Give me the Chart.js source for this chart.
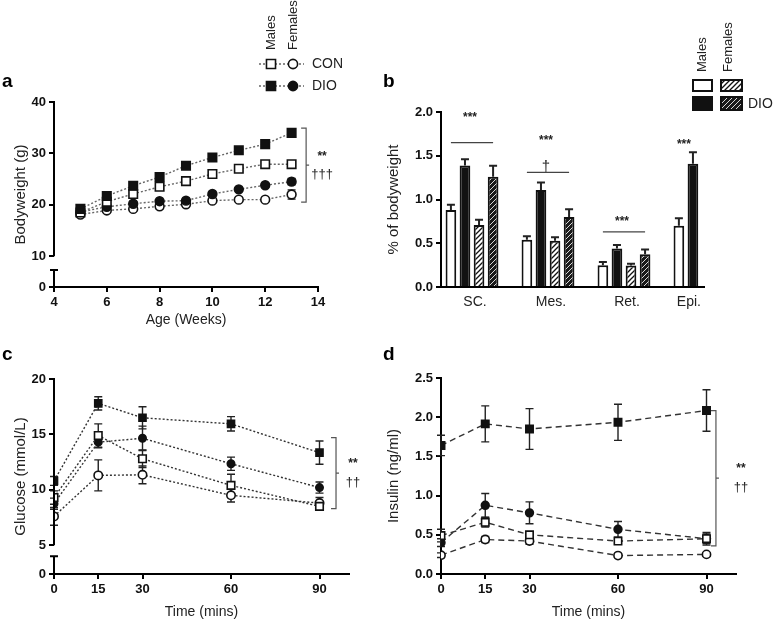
<!DOCTYPE html>
<html>
<head>
<meta charset="utf-8">
<script src="https://cdn.jsdelivr.net/npm/chart.js@4.4.1/dist/chart.umd.min.js"></script>
<style>
  html, body { margin: 0; background: #fff; }
  #fig { position: relative; width: 783px; height: 621px; overflow: hidden; background: #fff; }
  #fig canvas { position: absolute; }
</style>
</head>
<body>
<div id="fig">
  <canvas id="chartA" width="390" height="329" style="left:0;top:0"></canvas>
  <canvas id="chartB" width="403" height="322" style="left:380px;top:0"></canvas>
  <canvas id="chartC" width="390" height="299" style="left:0;top:322px"></canvas>
  <canvas id="chartD" width="403" height="299" style="left:380px;top:322px"></canvas>
</div>
<script>
// ---- panel a: bodyweight (g) by age ----
const aWeeks = [5, 6, 7, 8, 9, 10, 11, 12, 13];
const aConMale = [18.5, 20.6, 22.1, 23.5, 24.6, 26.0, 27.0, 27.9, 27.9];
const aDioMale = [19.2, 21.7, 23.7, 25.4, 27.6, 29.2, 30.6, 31.8, 34.0];
const aConFemale = [18.1, 18.9, 19.2, 19.7, 20.1, 20.8, 21.0, 21.0, 22.0];
const aDioFemale = [18.6, 19.6, 20.2, 20.7, 20.8, 22.1, 23.0, 23.8, 24.5];
const aConMaleErr = [0.3, 0.3, 0.3, 0.4, 0.4, 0.4, 0.4, 0.5, 0.5];
const aDioMaleErr = [0.3, 0.4, 0.4, 0.4, 0.5, 0.5, 0.5, 0.5, 0.6];
const aConFemaleErr = [0.3, 0.3, 0.3, 0.5, 0.3, 0.3, 0.3, 0.3, 0.9];
const aDioFemaleErr = [0.3, 0.3, 0.3, 0.3, 0.3, 0.3, 0.3, 0.4, 0.6];
const aXTicks = [4, 6, 8, 10, 12, 14];
const aYTicks = [0, 10, 20, 30, 40];

// ---- panel b: fat depots, % of bodyweight ----
const bCategories = ['SC.', 'Mes.', 'Ret.', 'Epi.'];
const bConMale = [0.88, 0.54, 0.25, 0.70];
const bDioMale = [1.39, 1.11, 0.44, 1.41];
const bConFemale = [0.71, 0.53, 0.245, null];
const bDioFemale = [1.26, 0.80, 0.375, null];
const bConMaleErr = [0.06, 0.04, 0.035, 0.085];
const bDioMaleErr = [0.07, 0.085, 0.04, 0.13];
const bConFemaleErr = [0.06, 0.04, 0.02, null];
const bDioFemaleErr = [0.125, 0.09, 0.055, null];
const bYTicks = [0, 0.5, 1.0, 1.5, 2.0];

// ---- panel c: glucose (mmol/L) ----
const cdTimes = [0, 15, 30, 60, 90];
const cdXTicks = [0, 15, 30, 60, 90];
const cConMale = [9.3, 14.9, 12.8, 10.4, 8.5];
const cDioMale = [10.8, 17.8, 16.5, 15.95, 13.35];
const cConFemale = [7.6, 11.3, 11.35, 9.5, 8.8];
const cDioFemale = [8.75, 14.3, 14.65, 12.35, 10.2];
const cConMaleErr = [0.6, 1.05, 0.8, 1.0, 0.3];
const cDioMaleErr = [0.4, 0.6, 1.0, 0.65, 1.05];
const cConFemaleErr = [0.8, 1.4, 0.8, 0.6, 0.5];
const cDioFemaleErr = [0.5, 0.5, 1.1, 0.6, 0.5];
const cYTicks = [0, 5, 10, 15, 20];

// ---- panel d: insulin (ng/ml) ----
const dConMale = [0.49, 0.66, 0.50, 0.42, 0.45];
const dDioMale = [1.64, 1.915, 1.85, 1.935, 2.085];
const dConFemale = [0.24, 0.44, 0.42, 0.235, 0.25];
const dDioFemale = [0.40, 0.876, 0.78, 0.57, 0.45];
const dConMaleErr = [0.08, 0.06, 0.04, 0.04, 0.06];
const dDioMaleErr = [0.13, 0.23, 0.26, 0.23, 0.265];
const dConFemaleErr = [0.03, 0.04, 0.04, 0.02, 0.02];
const dDioFemaleErr = [0.05, 0.15, 0.14, 0.1, 0.08];
const dYTicks = [0, 0.5, 1.0, 1.5, 2.0, 2.5];

// broken axes: the scale value drawn as "0" below the break
const A_FLOOR = 4;
const C_FLOOR = 2.4;

const FONT = "'Liberation Sans', Arial, sans-serif";
Chart.defaults.font.family = FONT;
Chart.defaults.color = '#111';

const tickGrid = { display: true, drawOnChartArea: false, drawTicks: true, tickLength: 5, color: '#000', lineWidth: 2 };
const axisBorder = { display: true, color: '#000', width: 2 };
const boldTicks = { font: { size: 13, weight: 'bold' }, color: '#111', padding: 3, autoSkip: false, maxRotation: 0 };

function line(label, data, errors, shape, filled, radius, dash, color) {
    return {
        label, data, errors,
        borderColor: color, borderWidth: 1.4, borderDash: dash,
        pointStyle: shape, pointRadius: radius,
        pointBackgroundColor: filled ? '#111' : '#fff',
        pointBorderColor: '#111', pointBorderWidth: 1.6,
        fill: false, tension: 0
    };
}

function makeHatch(bg, fg, w) {
    const c = document.createElement('canvas');
    c.width = 5; c.height = 5;
    const x = c.getContext('2d');
    x.fillStyle = bg; x.fillRect(0, 0, 5, 5);
    x.strokeStyle = fg; x.lineWidth = w;
    x.beginPath();
    x.moveTo(0, 5); x.lineTo(5, 0);
    x.moveTo(-1, 1); x.lineTo(1, -1);
    x.moveTo(4, 6); x.lineTo(6, 4);
    x.stroke();
    return x.createPattern(c, 'repeat');
}
const hatchLight = makeHatch('#fff', '#111', 1.3);
const hatchDark = makeHatch('#1a1a1a', '#d8d8d8', 1.0);

const errorBars = {
    id: 'errorBars',
    beforeDatasetsDraw(chart) {
        const ctx = chart.ctx, y = chart.scales.y;
        chart.data.datasets.forEach((ds, i) => {
            if (!ds.errors) return;
            const meta = chart.getDatasetMeta(i);
            ctx.save();
            ctx.strokeStyle = '#222';
            ctx.lineWidth = ds.errWidth || 1.4;
            ctx.setLineDash([]);
            meta.data.forEach((el, j) => {
                const v = ds.data[j], e = ds.errors[j];
                if (v == null || !e) return;
                const top = y.getPixelForValue(v + e);
                const bot = y.getPixelForValue(ds.errUpOnly ? v : v - e);
                const cap = ds.errCap || 4;
                ctx.beginPath();
                ctx.moveTo(el.x, top); ctx.lineTo(el.x, bot);
                ctx.moveTo(el.x - cap, top); ctx.lineTo(el.x + cap, top);
                if (!ds.errUpOnly) { ctx.moveTo(el.x - cap, bot); ctx.lineTo(el.x + cap, bot); }
                ctx.stroke();
            });
            ctx.restore();
        });
    }
};

const brokenAxis = {
    id: 'brokenAxis',
    afterDatasetsDraw(chart, args, opts) {
        const { ctx, chartArea } = chart, y = chart.scales.y;
        const x = chartArea.left;
        const capY = y.getPixelForValue(opts.lowerStart);
        ctx.save();
        ctx.strokeStyle = '#000';
        ctx.lineWidth = 2;
        ctx.beginPath();
        ctx.moveTo(x, chartArea.top - 1);
        ctx.lineTo(x, y.getPixelForValue(opts.upperEnd));
        ctx.moveTo(x, capY); ctx.lineTo(x, chartArea.bottom);
        ctx.moveTo(x - 4, capY); ctx.lineTo(x + 4, capY);
        ctx.stroke();
        ctx.restore();
    }
};

function letter(ctx, t, x, y) {
    ctx.save();
    ctx.font = 'bold 19px ' + FONT;
    ctx.fillStyle = '#000';
    ctx.textBaseline = 'middle';
    ctx.fillText(t, x, y);
    ctx.restore();
}

function rotatedText(ctx, t, x, yBottom) {
    ctx.save();
    ctx.translate(x, yBottom);
    ctx.rotate(-Math.PI / 2);
    ctx.font = '13px ' + FONT;
    ctx.fillStyle = '#222';
    ctx.textBaseline = 'middle';
    ctx.fillText(t, 0, 0);
    ctx.restore();
}

function marker(ctx, shape, filled, x, y, r) {
    ctx.save();
    ctx.fillStyle = filled ? '#111' : '#fff';
    ctx.strokeStyle = '#111';
    ctx.lineWidth = 1.6;
    ctx.setLineDash([]);
    ctx.beginPath();
    if (shape === 'rect') {
        const s = r * Math.SQRT1_2;
        ctx.rect(x - s, y - s, 2 * s, 2 * s);
    } else {
        ctx.arc(x, y, r, 0, Math.PI * 2);
    }
    ctx.fill(); ctx.stroke();
    ctx.restore();
}

function bracket(chart, xv, yTop, yBot, texts, textDx) {
    const ctx = chart.ctx, xs = chart.scales.x, ys = chart.scales.y;
    const x = xs.getPixelForValue(xv);
    const t = ys.getPixelForValue(yTop), b = ys.getPixelForValue(yBot), m = (t + b) / 2;
    ctx.save();
    ctx.strokeStyle = '#555';
    ctx.lineWidth = 1.2;
    ctx.beginPath();
    ctx.moveTo(x - 5, t); ctx.lineTo(x, t); ctx.lineTo(x, b); ctx.lineTo(x - 5, b);
    ctx.moveTo(x, m); ctx.lineTo(x + 3, m);
    ctx.stroke();
    ctx.fillStyle = '#222';
    ctx.textAlign = 'center';
    ctx.textBaseline = 'middle';
    ctx.font = 'bold 12px ' + FONT;
    ctx.fillText(texts[0], x + textDx, m - 9);
    ctx.font = '13px ' + FONT;
    ctx.fillText(texts[1], x + textDx, m + 9);
    ctx.restore();
}

function lineOptions(pad, yWidth, xHeight, xMax, xTicks, yMin, yMax, yTicks, yFloor, yTitle, xTitle, yFmt) {
    return {
        responsive: false,
        animation: false,
        layout: { padding: pad },
        plugins: { legend: { display: false }, tooltip: { enabled: false } },
        scales: {
            x: {
                type: 'linear', min: xTicks[0], max: xMax,
                afterFit: s => { s.height = xHeight; },
                afterBuildTicks: s => { s.ticks = xTicks.map(v => ({ value: v })); },
                grid: tickGrid, border: axisBorder, ticks: boldTicks,
                title: { display: true, text: xTitle, font: { size: 14 }, color: '#222', padding: 0 }
            },
            y: {
                type: 'linear', min: yMin, max: yMax,
                afterFit: s => { s.width = yWidth; },
                afterBuildTicks: s => { s.ticks = yTicks.map(v => ({ value: v === 0 && yFloor != null ? yFloor : v })); },
                grid: tickGrid,
                border: yFloor != null ? { display: false } : axisBorder,
                ticks: Object.assign({}, boldTicks, { callback: (v, i) => yFmt(yTicks[i]) }),
                title: { display: true, text: yTitle, font: { size: 15 }, color: '#222', padding: 0 }
            }
        }
    };
}

// ---------- a ----------
const A_DASH = [2, 2], A_COL = '#666';
const optsA = lineOptions({ left: 12, top: 102, right: 72, bottom: 0 }, 42, 42, 14, aXTicks,
    A_FLOOR, 40, aYTicks, A_FLOOR, 'Bodyweight (g)', 'Age (Weeks)', v => String(v));
optsA.plugins.brokenAxis = { upperEnd: 10, lowerStart: 7.3 };

new Chart(document.getElementById('chartA'), {
    type: 'line',
    data: {
        labels: aWeeks,
        datasets: [
            line('DIO males', aDioMale, aDioMaleErr, 'rect', true, 6, A_DASH, A_COL),
            line('CON males', aConMale, aConMaleErr, 'rect', false, 6, A_DASH, A_COL),
            line('DIO females', aDioFemale, aDioFemaleErr, 'circle', true, 4.4, A_DASH, A_COL),
            line('CON females', aConFemale, aConFemaleErr, 'circle', false, 4.4, A_DASH, A_COL)
        ]
    },
    options: optsA,
    plugins: [errorBars, brokenAxis, {
        id: 'extrasA',
        afterDraw(chart) {
            const ctx = chart.ctx;
            letter(ctx, 'a', 2, 82);
            rotatedText(ctx, 'Males', 271, 50);
            rotatedText(ctx, 'Females', 293, 50);
            [[64, false, 'CON'], [86, true, 'DIO']].forEach(([y, filled, t]) => {
                ctx.save();
                ctx.strokeStyle = A_COL; ctx.lineWidth = 1.4; ctx.setLineDash(A_DASH);
                ctx.beginPath(); ctx.moveTo(259, y); ctx.lineTo(304, y); ctx.stroke();
                ctx.restore();
                marker(ctx, 'rect', filled, 271, y, 6.4);
                marker(ctx, 'circle', filled, 293, y, 4.6);
                ctx.save();
                ctx.font = '14px ' + FONT; ctx.fillStyle = '#222'; ctx.textBaseline = 'middle';
                ctx.fillText(t, 312, y);
                ctx.restore();
            });
            bracket(chart, 13.55, 34.9, 20.5, ['**', '†††'], 16);
        }
    }]
});

// ---------- b ----------
function barSet(label, data, errors, fill) {
    return {
        label, data, errors, errUpOnly: true, errCap: 4, errWidth: 2,
        backgroundColor: fill, borderColor: '#111', borderWidth: 2,
        categoryPercentage: 0.74, barPercentage: 0.76
    };
}
const bSigLines = [{ cat: 0, y: 1.65 }, { cat: 1, y: 1.31 }, { cat: 2, y: 0.63 }];
const bSigMarks = [
    { cat: 0, y: 1.93, text: '***' }, { cat: 1, y: 1.67, text: '***' }, { cat: 1, y: 1.37, text: '†' },
    { cat: 2, y: 0.75, text: '***' }, { cat: 3, y: 1.63, text: '***' }
];

new Chart(document.getElementById('chartB'), {
    type: 'bar',
    data: {
        labels: bCategories.map((c, i) => i),
        datasets: [
            barSet('CON males', bConMale, bConMaleErr, '#fff'),
            barSet('DIO males', bDioMale, bDioMaleErr, '#111'),
            barSet('CON females', bConFemale, bConFemaleErr, hatchLight),
            barSet('DIO females', bDioFemale, bDioFemaleErr, hatchDark)
        ]
    },
    options: {
        responsive: false,
        animation: false,
        layout: { padding: { left: 5, top: 112, right: 79, bottom: 0 } },
        plugins: { legend: { display: false }, tooltip: { enabled: false } },
        scales: {
            x: {
                type: 'linear', min: -0.408, max: 3.053, offset: false,
                afterFit: s => { s.height = 35; },
                grid: { display: false, offset: false }, border: axisBorder,
                ticks: { display: false }
            },
            y: {
                min: 0, max: 2.0,
                afterFit: s => { s.width = 56; },
                afterBuildTicks: s => { s.ticks = bYTicks.map(v => ({ value: v })); },
                grid: tickGrid, border: axisBorder,
                ticks: Object.assign({}, boldTicks, { callback: v => v.toFixed(1) }),
                title: { display: true, text: '% of bodyweight', font: { size: 15 }, color: '#222', padding: 0 }
            }
        }
    },
    plugins: [errorBars, {
        id: 'extrasB',
        afterDraw(chart) {
            const ctx = chart.ctx, ys = chart.scales.y, area = chart.chartArea;
            const metas = chart.data.datasets.map((d, i) => chart.getDatasetMeta(i));
            const barsOf = cat => metas.map((m, i) => chart.data.datasets[i].data[cat] == null ? null : m.data[cat]).filter(Boolean);
            const centerOf = cat => { const b = barsOf(cat); return b.reduce((s, e) => s + e.x, 0) / b.length; };

            ctx.save();
            ctx.fillStyle = '#222';
            ctx.textAlign = 'center';
            ctx.textBaseline = 'middle';
            ctx.font = '14px ' + FONT;
            bCategories.forEach((c, i) => ctx.fillText(c, centerOf(i) + 3, area.bottom + 15));

            ctx.strokeStyle = '#444';
            ctx.lineWidth = 1.3;
            bSigLines.forEach(l => {
                const y = ys.getPixelForValue(l.y);
                ctx.beginPath();
                ctx.moveTo(metas[0].data[l.cat].x, y);
                ctx.lineTo(metas[3].data[l.cat].x, y);
                ctx.stroke();
            });
            bSigMarks.forEach(m => {
                ctx.font = (m.text === '†' ? '15px ' : 'bold 12px ') + FONT;
                ctx.fillText(m.text, centerOf(m.cat) - 2, ys.getPixelForValue(m.y));
            });
            ctx.restore();

            letter(ctx, 'b', 3, 82);
            rotatedText(ctx, 'Males', 322, 72);
            rotatedText(ctx, 'Females', 348, 72);
            ctx.save();
            ctx.strokeStyle = '#111';
            ctx.lineWidth = 2;
            [[313, 80, 19, 11, '#fff'], [341, 80, 21, 11, hatchLight],
             [313, 97, 19, 13, '#111'], [341, 97, 21, 13, hatchDark]].forEach(([x, y, w, h, f]) => {
                ctx.fillStyle = f;
                ctx.fillRect(x, y, w, h);
                ctx.strokeRect(x, y, w, h);
            });
            ctx.font = '14px ' + FONT;
            ctx.fillStyle = '#222';
            ctx.textBaseline = 'middle';
            ctx.fillText('DIO', 368, 104);
            ctx.restore();
        }
    }]
});

// ---------- c ----------
const C_DASH = [2, 2], C_COL = '#333';
const optsC = lineOptions({ left: 12, top: 57, right: 41, bottom: 0 }, 42, 47, 100, cdXTicks,
    C_FLOOR, 20, cYTicks, C_FLOOR, 'Glucose (mmol/L)', 'Time (mins)', v => String(v));
optsC.plugins.brokenAxis = { upperEnd: 5, lowerStart: 4.0 };

new Chart(document.getElementById('chartC'), {
    type: 'line',
    data: {
        labels: cdTimes,
        datasets: [
            line('DIO males', cDioMale, cDioMaleErr, 'rect', true, 5, C_DASH, C_COL),
            line('CON males', cConMale, cConMaleErr, 'rect', false, 5.3, C_DASH, C_COL),
            line('DIO females', cDioFemale, cDioFemaleErr, 'circle', true, 3.7, C_DASH, C_COL),
            line('CON females', cConFemale, cConFemaleErr, 'circle', false, 4.2, C_DASH, C_COL)
        ]
    },
    options: optsC,
    plugins: [errorBars, brokenAxis, {
        id: 'extrasC',
        afterDraw(chart) {
            letter(chart.ctx, 'c', 2, 33);
            bracket(chart, 95.6, 14.7, 8.3, ['**', '††'], 17);
        }
    }]
});

// ---------- d ----------
const D_DASH = [6, 4], D_COL = '#333';
const optsD = lineOptions({ left: 5, top: 56, right: 47, bottom: 0 }, 56, 47, 100, cdXTicks,
    0, 2.5, dYTicks, null, 'Insulin (ng/ml)', 'Time (mins)', v => v.toFixed(1));

new Chart(document.getElementById('chartD'), {
    type: 'line',
    data: {
        labels: cdTimes,
        datasets: [
            line('DIO males', dDioMale, dDioMaleErr, 'rect', true, 5.2, D_DASH, D_COL),
            line('CON males', dConMale, dConMaleErr, 'rect', false, 5.2, D_DASH, D_COL),
            line('DIO females', dDioFemale, dDioFemaleErr, 'circle', true, 3.9, D_DASH, D_COL),
            line('CON females', dConFemale, dConFemaleErr, 'circle', false, 4.1, D_DASH, D_COL)
        ]
    },
    options: optsD,
    plugins: [errorBars, {
        id: 'extrasD',
        afterDraw(chart) {
            letter(chart.ctx, 'd', 3, 33);
            bracket(chart, 93.2, 2.085, 0.36, ['**', '††'], 25);
        }
    }]
});
</script>
</body>
</html>
